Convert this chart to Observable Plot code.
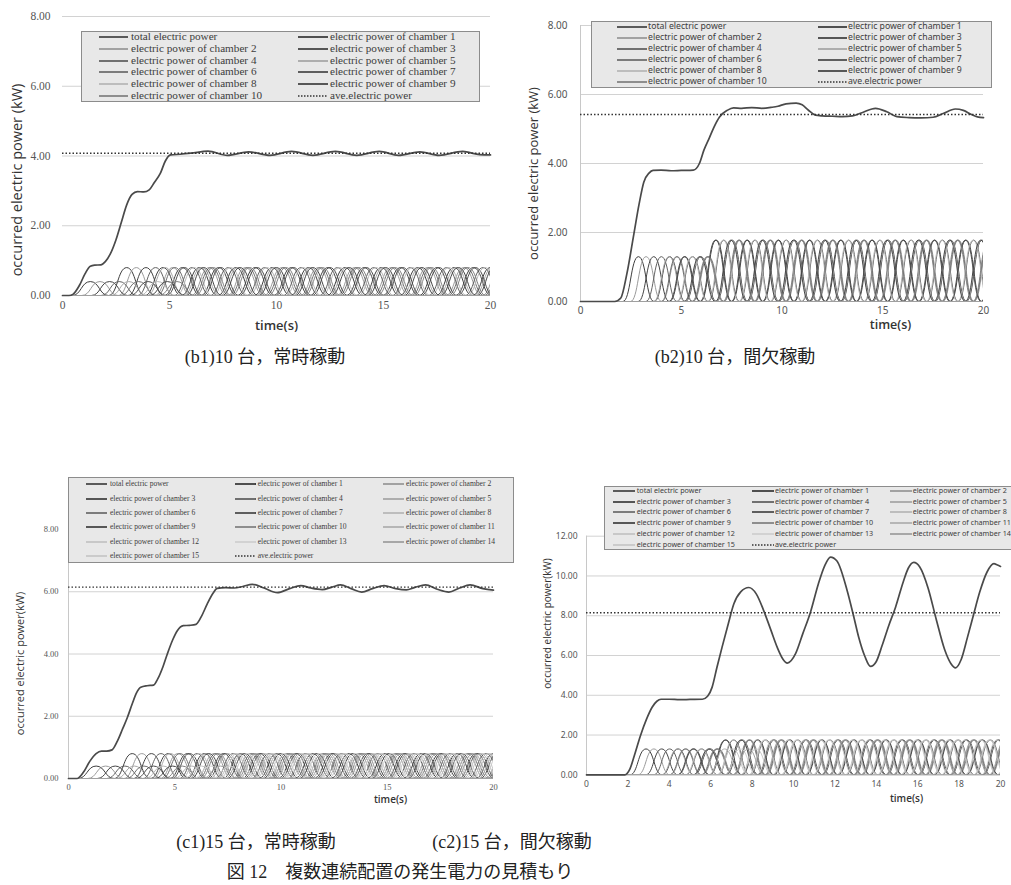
<!DOCTYPE html>
<html><head><meta charset="utf-8">
<script src="https://cdn.jsdelivr.net/npm/d3@7"></script>
<script src="https://cdn.jsdelivr.net/npm/@observablehq/plot@0.6"></script>
<style>
body{margin:0;background:#fff;}
#page{position:relative;width:1011px;height:885px;overflow:hidden;background:#fff;}
.panel{position:absolute;}
.legend{position:absolute;background:#e8e8e8;border:1px solid #8c8c8c;box-sizing:border-box;z-index:2;}
.lt{position:absolute;white-space:nowrap;line-height:1;transform:translateY(-52%);color:#3c3c3c;z-index:3;}
.ls{position:absolute;z-index:3;overflow:visible;}
.cap{position:absolute;font-family:"Liberation Serif","Noto Sans CJK JP",serif;font-size:18px;color:#222;white-space:nowrap;transform:translate(-50%,-50%);}
</style></head>
<body><div id="page"></div>
<script>
// ---------- tick labels ----------
const timeTicks5 = [0, 5, 10, 15, 20];
const timeTicks2 = [0, 2, 4, 6, 8, 10, 12, 14, 16, 18, 20];
const powerTicks8 = [0, 2, 4, 6, 8];
const powerTicks12 = [0, 2, 4, 6, 8, 10, 12];

// ---------- total electric power [time s, kW] ----------
const b1Total = [[0,0],[0.3,0],[0.5,0.04],[0.8,0.3],[1.05,0.62],[1.3,0.84],[1.5,0.87],[1.8,0.88],[2.0,0.97],[2.24,1.2],[2.5,1.6],[2.75,2.1],[3.0,2.6],[3.25,2.9],[3.5,2.98],[3.8,2.97],[4.05,3.03],[4.3,3.25],[4.57,3.5],[4.8,3.85],[5.05,4.03],[5.5,4.05],[6.0,4.08],[6.8,4.14],[7.7,4.02],[8.7,4.12],[9.7,4.02],[10.7,4.13],[11.7,4.02],[12.75,4.13],[13.75,4.02],[14.8,4.13],[15.7,4.02],[16.7,4.12],[17.6,4.02],[18.7,4.13],[19.5,4.04],[20,4.03]];
const b2Total = [[0,0],[1.7,0],[2.0,0.1],[2.3,0.8],[2.65,1.96],[2.9,2.8],[3.14,3.46],[3.4,3.72],[3.6,3.8],[4.0,3.81],[4.5,3.79],[5.0,3.8],[5.6,3.81],[5.9,4.0],[6.12,4.38],[6.4,4.75],[6.62,5.05],[6.9,5.35],[7.28,5.54],[7.6,5.61],[8.0,5.6],[8.5,5.62],[9.0,5.6],[9.5,5.63],[9.8,5.66],[10.2,5.73],[10.7,5.75],[11.0,5.7],[11.3,5.55],[11.66,5.4],[12.0,5.38],[12.5,5.37],[13.0,5.36],[13.5,5.38],[14.0,5.48],[14.64,5.6],[15.2,5.5],[15.7,5.36],[16.3,5.33],[16.9,5.32],[17.5,5.34],[18.0,5.45],[18.6,5.58],[19.0,5.54],[19.4,5.42],[19.7,5.35],[20,5.33]];
const c1Total = [[0,0],[0.4,0],[0.7,0.2],[1.0,0.55],[1.3,0.8],[1.55,0.88],[1.8,0.88],[2.05,0.92],[2.3,1.2],[2.55,1.6],[2.77,1.96],[3.0,2.4],[3.2,2.75],[3.4,2.93],[3.7,2.98],[4.0,3.0],[4.2,3.2],[4.45,3.6],[4.65,4.0],[4.9,4.45],[5.12,4.75],[5.4,4.91],[5.7,4.92],[6.0,4.95],[6.25,5.2],[6.53,5.61],[6.8,5.95],[7.0,6.11],[7.4,6.13],[7.8,6.12],[8.2,6.17],[8.65,6.24],[9.2,6.12],[9.83,5.97],[10.4,6.1],[10.93,6.2],[11.4,6.12],[11.94,6.07],[12.4,6.15],[12.8,6.22],[13.3,6.1],[13.8,5.99],[14.3,6.1],[14.85,6.2],[15.4,6.1],[15.9,6.06],[16.3,6.14],[16.8,6.22],[17.35,6.08],[17.9,5.99],[18.4,6.12],[18.9,6.22],[19.5,6.1],[20,6.05]];
const c2Total = [[0,0],[1.85,0],[2.1,0.3],[2.35,1.1],[2.61,1.98],[2.9,2.8],[3.17,3.4],[3.4,3.7],[3.6,3.8],[4.0,3.8],[4.5,3.78],[5.0,3.79],[5.6,3.8],[5.85,3.95],[6.07,4.41],[6.3,5.4],[6.55,6.42],[6.85,7.6],[7.12,8.6],[7.45,9.2],[7.84,9.42],[8.2,9.1],[8.56,8.26],[8.9,7.3],[9.21,6.42],[9.5,5.8],[9.7,5.62],[10.1,6.09],[10.45,7.1],[10.82,8.18],[11.2,9.6],[11.5,10.5],[11.79,10.95],[12.1,10.75],[12.59,9.27],[12.9,8.0],[13.15,6.92],[13.45,5.95],[13.72,5.45],[14.0,5.7],[14.28,6.5],[14.6,7.5],[14.93,8.43],[15.3,9.7],[15.55,10.4],[15.81,10.68],[16.1,10.45],[16.5,9.4],[16.9,7.8],[17.3,6.3],[17.6,5.6],[17.83,5.38],[18.1,5.8],[18.4,6.9],[18.71,8.1],[19.0,9.2],[19.35,10.2],[19.68,10.62],[19.85,10.55],[20,10.48]];

// ---------- average electric power (kW) ----------
const b1Ave = 4.08, b2Ave = 5.42, c1Ave = 6.15, c2Ave = 8.15;

// ---------- chambers: start time (s), lobe period (s), lobe heights [first/early, steady] (kW), steady-from time (s) ----------
const b1Start = [0.45, 0.9, 1.35, 1.8, 2.25, 2.7, 3.15, 3.6, 4.05, 4.5];
const c1Start = [0.45, 0.9, 1.35, 1.8, 2.25, 2.7, 3.15, 3.6, 4.05, 4.5, 4.95, 5.4, 5.85, 6.3, 6.75];
const b2Start = [2.1, 2.48, 2.86, 3.24, 3.62, 4.0, 4.38, 4.76, 5.14, 5.52];
const c2Start = [2.1, 2.48, 2.86, 3.24, 3.62, 4.0, 4.38, 4.76, 5.14, 5.52, 5.9, 6.28, 6.66, 7.04, 7.42];
const b1Period = 1.7, c1Period = 1.7, b2Period = 1.55, c2Period = 1.55;
const b1Heights = [0.4, 0.8], c1Heights = [0.4, 0.8], b2Heights = [1.3, 1.78], c2Heights = [1.3, 1.75];
const b1Steady = 2.8, c1Steady = 2.8, b2Steady = 6.5, c2Steady = 6.5;

// ---------- colours of the series ----------
const totalColor = "#4a4a4a";
const chamberColors = ["#3e3e3e","#9a9a9a","#444444","#626262","#a8a8a8","#707070","#4e4e4e","#b8b8b8","#474747","#848484","#b0b0b0","#c4c4c4","#d0d0d0","#a0a0a0","#c8c8c8"];

// ---------- captions ----------
const captions = [
  {text: "(b1)10 台，常時稼動", x: 265, y: 355},
  {text: "(b2)10 台，間欠稼動", x: 735, y: 355},
  {text: "(c1)15 台，常時稼動", x: 256, y: 840},
  {text: "(c2)15 台，間欠稼動", x: 512, y: 840},
  {text: "図 12　複数連続配置の発生電力の見積もり", x: 400, y: 870}
];

// peaks / valleys of every chamber (points joined by the library's bump-x curve)
function chamberPoints(starts, period, heights, steadyFrom) {
  return starts.map((s) => {
    const pts = [{t: 0, v: 0}, {t: s, v: 0}];
    for (let m = 0; s + m * period < 21.5; m++) {
      const peak = s + (m + 0.5) * period;
      const h = (m === 0 || peak < steadyFrom) ? heights[0] : heights[1];
      pts.push({t: peak, v: h}, {t: s + (m + 1) * period, v: 0});
    }
    return pts;
  });
}

const page = document.getElementById("page");

function drawPanel(c) {
  const chamberMarks = c.chambers.map((pts, k) =>
    Plot.line(pts, {x: "t", y: "v", stroke: chamberColors[k], strokeWidth: 1.0, curve: "bump-x", clip: true}));
  const svg = Plot.plot({
    width: c.w, height: c.h,
    marginLeft: c.ml, marginRight: c.mr, marginTop: c.mt, marginBottom: c.mb,
    x: {domain: [0, 20]},
    y: {domain: [0, c.yMax]},
    style: {fontFamily: c.tickFont, fontSize: c.tickSize + "px", color: "#555", background: "transparent", overflow: "visible"},
    marks: [
      Plot.gridY(c.yTicks, {stroke: "#d2d2d2", strokeOpacity: 1}),
      c.leftLine ? Plot.ruleX([0], {stroke: "#c8c8c8"}) : null,
      Plot.ruleY([0], {stroke: "#a0a0a0"}),
      ...chamberMarks,
      Plot.line(c.total, {x: (d) => d[0], y: (d) => d[1], stroke: totalColor, strokeWidth: 1.7, curve: "monotone-x"}),
      Plot.ruleY([c.ave], {stroke: "#333", strokeWidth: 1.4, strokeDasharray: "1.5,2"}),
      Plot.axisY(c.yTicks, {tickSize: 0, tickPadding: c.yPad, tickFormat: (d) => d.toFixed(2), label: null}),
      Plot.axisX(c.xTicks, {tickSize: 0, tickPadding: c.xPad, tickFormat: (d) => String(d), label: null}),
      Plot.text(["time(s)"], {text: (d) => d, frameAnchor: "bottom", textAnchor: "middle", dx: c.xlDx, dy: c.xlDy, fontSize: c.xlSize, fontFamily: "Open Sans", fontWeight: 600, fill: "#333"}),
      Plot.text([c.yLabel], {text: (d) => d, frameAnchor: "left", textAnchor: "middle", rotate: -90, dx: c.ylDx, dy: c.ylDy, fontSize: c.ylSize, fontFamily: "Open Sans", fill: "#333"})
    ]
  });
  const wrap = document.createElement("div");
  wrap.className = "panel";
  wrap.style.left = c.left + "px";
  wrap.style.top = c.top + "px";
  wrap.appendChild(svg);
  page.appendChild(wrap);
}

function drawLegend(L) {
  const box = document.createElement("div");
  box.className = "legend";
  Object.assign(box.style, {left: L.left + "px", top: L.top + "px", width: L.w + "px", height: L.h + "px"});
  page.appendChild(box);
  const n = L.cols.length;
  L.entries.forEach((e, i) => {
    const row = Math.floor(i / n), col = L.cols[i % n];
    const y = L.row0 + row * L.rowStep;
    const sw = document.createElementNS("http://www.w3.org/2000/svg", "svg");
    sw.setAttribute("class", "ls");
    sw.setAttribute("width", col.sw); sw.setAttribute("height", 4);
    sw.style.left = col.sx + "px"; sw.style.top = (y - 2) + "px";
    const ln = document.createElementNS("http://www.w3.org/2000/svg", "line");
    ln.setAttribute("x1", 0); ln.setAttribute("x2", col.sw); ln.setAttribute("y1", 2); ln.setAttribute("y2", 2);
    ln.setAttribute("stroke", e.color); ln.setAttribute("stroke-width", e.dash ? 1.4 : 1.8);
    if (e.dash) ln.setAttribute("stroke-dasharray", "1.5,1.5");
    sw.appendChild(ln);
    page.appendChild(sw);
    const t = document.createElement("div");
    t.className = "lt";
    t.textContent = e.name;
    Object.assign(t.style, {left: col.tx + "px", top: y + "px", fontFamily: L.font, fontSize: L.size + "px"});
    page.appendChild(t);
  });
}

function entriesFor(n) {
  const out = [{name: "total electric power", color: totalColor}];
  for (let i = 0; i < n; i++) out.push({name: "electric power of chamber " + (i + 1), color: chamberColors[i]});
  out.push({name: "ave.electric power", color: "#333", dash: true});
  return out;
}

drawPanel({left: 0, top: 0, w: 500, h: 340, ml: 62, mr: 10, mt: 16, mb: 45, yMax: 8, yTicks: powerTicks8, xTicks: timeTicks5,
  tickFont: "Liberation Serif", tickSize: 11.5, yPad: 12, xPad: 5, xlDx: 0, xlDy: 34, xlSize: 13,
  yLabel: "occurred electric power (kW)", ylDx: -45, ylDy: 24, ylSize: 14.5, leftLine: false,
  total: b1Total, ave: b1Ave, chambers: chamberPoints(b1Start, b1Period, b1Heights, b1Steady)});

drawPanel({left: 500, top: 0, w: 511, h: 340, ml: 80, mr: 28, mt: 25, mb: 39, yMax: 8, yTicks: powerTicks8, xTicks: timeTicks5,
  tickFont: "Noto Sans", tickSize: 10, yPad: 13, xPad: 5, xlDx: 108.5, xlDy: 27, xlSize: 12.5,
  yLabel: "occurred electric power (kW)", ylDx: -47, ylDy: 10, ylSize: 13, leftLine: true,
  total: b2Total, ave: b2Ave, chambers: chamberPoints(b2Start, b2Period, b2Heights, b2Steady)});

drawPanel({left: 0, top: 440, w: 500, h: 370, ml: 68, mr: 7, mt: 89, mb: 32, yMax: 8, yTicks: powerTicks8, xTicks: timeTicks5,
  tickFont: "Liberation Serif", tickSize: 8.5, yPad: 10, xPad: 5, xlDx: 109.5, xlDy: 24, xlSize: 10,
  yLabel: "occurred electric power(kW)", ylDx: -48, ylDy: 9.5, ylSize: 11, leftLine: true,
  total: c1Total, ave: c1Ave, chambers: chamberPoints(c1Start, c1Period, c1Heights, c1Steady)});

drawPanel({left: 500, top: 440, w: 511, h: 370, ml: 86, mr: 11, mt: 95.7, mb: 35.7, yMax: 12, yTicks: powerTicks12, xTicks: timeTicks2,
  tickFont: "Noto Sans", tickSize: 8.5, yPad: 9, xPad: 6, xlDx: 113, xlDy: 26.7, xlSize: 10,
  yLabel: "occurred electric power(kW)", ylDx: -39, ylDy: -32, ylSize: 10, leftLine: true,
  total: c2Total, ave: c2Ave, chambers: chamberPoints(c2Start, c2Period, c2Heights, c2Steady)});

drawLegend({left: 81, top: 31, w: 399, h: 71, font: "Liberation Serif", size: 11.2, row0: 36.7, rowStep: 11.9,
  cols: [{sx: 99, sw: 29, tx: 131}, {sx: 298, sw: 30, tx: 330}], entries: entriesFor(10)});
drawLegend({left: 591, top: 21, w: 401, h: 67, font: "Noto Sans", size: 8.7, row0: 26.7, rowStep: 11.06,
  cols: [{sx: 617, sw: 30, tx: 648}, {sx: 818, sw: 29, tx: 848}], entries: entriesFor(10)});
drawLegend({left: 68, top: 477, w: 446, h: 86, font: "Liberation Serif", size: 7.6, row0: 484.3, rowStep: 14.35,
  cols: [{sx: 86, sw: 21, tx: 110}, {sx: 235, sw: 21, tx: 257.7}, {sx: 383, sw: 21, tx: 406}], entries: entriesFor(15)});
drawLegend({left: 604, top: 486, w: 420, h: 64, font: "Noto Sans", size: 7.2, row0: 490.7, rowStep: 10.86,
  cols: [{sx: 613, sw: 22, tx: 636.7}, {sx: 752, sw: 22, tx: 775}, {sx: 890, sw: 22, tx: 912.7}], entries: entriesFor(15)});

captions.forEach((c) => {
  const d = document.createElement("div");
  d.className = "cap";
  d.textContent = c.text;
  d.style.left = c.x + "px";
  d.style.top = c.y + "px";
  page.appendChild(d);
});
</script></body></html>
